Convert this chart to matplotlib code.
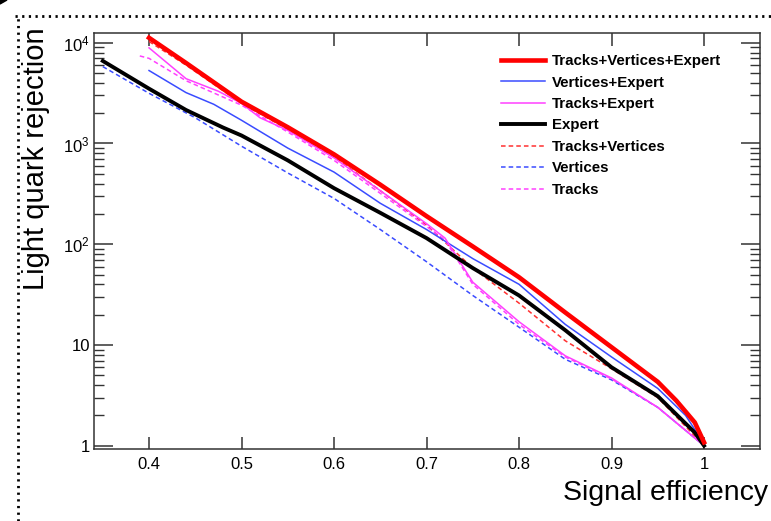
import numpy as np
import matplotlib
matplotlib.use("Agg")
import matplotlib.pyplot as plt
from matplotlib.lines import Line2D
from matplotlib.patches import Polygon
from matplotlib.ticker import FixedLocator, LogLocator, NullFormatter, FuncFormatter

plt.rcParams['font.family'] = ['Liberation Sans', 'DejaVu Sans']
plt.rcParams['mathtext.fontset'] = 'custom'
plt.rcParams['mathtext.rm'] = 'Liberation Sans'

# signal efficiency / light quark rejection
eff_tve = [0.40, 0.44, 0.50, 0.55, 0.60, 0.65, 0.70, 0.75, 0.80, 0.85, 0.90, 0.95, 0.97, 0.99, 1.00]
rej_tve = [11200, 6300, 2600, 1450, 780, 390, 190, 95, 47, 21, 9.5, 4.3, 2.8, 1.7, 1.08]

eff_ve = [0.40, 0.44, 0.47, 0.50, 0.55, 0.60, 0.65, 0.70, 0.75, 0.80, 0.85, 0.90, 0.95, 0.98, 1.00]
rej_ve = [5300, 3200, 2450, 1700, 900, 520, 255, 140, 72, 40, 16, 7.6, 3.7, 2.0, 1.05]

eff_te = [0.40, 0.44, 0.475, 0.50, 0.52, 0.55, 0.60, 0.65, 0.70, 0.72, 0.75, 0.80, 0.85, 0.90, 0.95, 1.00]
rej_te = [8900, 4400, 3300, 2500, 1800, 1350, 720, 340, 160, 115, 42, 17, 7.8, 4.7, 2.4, 1.0]

eff_e = [0.35, 0.40, 0.44, 0.48, 0.50, 0.55, 0.60, 0.65, 0.70, 0.75, 0.80, 0.85, 0.90, 0.95, 0.99, 1.00]
rej_e = [6600, 3500, 2150, 1440, 1200, 680, 360, 205, 115, 58, 31, 14, 6.0, 3.1, 1.35, 1.0]

eff_tv = [0.40, 0.44, 0.50, 0.55, 0.60, 0.65, 0.70, 0.75, 0.80, 0.85, 0.90, 0.95, 1.00]
rej_tv = [10300, 6000, 2500, 1380, 740, 340, 155, 58, 26, 11, 5.8, 3.0, 1.0]

eff_v = [0.35, 0.40, 0.45, 0.50, 0.55, 0.60, 0.65, 0.70, 0.75, 0.80, 0.85, 0.90, 0.95, 1.00]
rej_v = [5800, 3150, 1800, 940, 510, 285, 140, 67, 31, 15, 7.2, 4.5, 2.4, 1.0]

eff_t = [0.39, 0.40, 0.44, 0.50, 0.55, 0.60, 0.65, 0.70, 0.72, 0.75, 0.80, 0.85, 0.90, 0.95, 1.00]
rej_t = [7400, 7000, 4200, 2400, 1300, 680, 320, 150, 110, 40, 16, 7.6, 4.6, 2.4, 1.0]

xticks = [0.4, 0.5, 0.6, 0.7, 0.8, 0.9, 1.0]
xtick_labels = ['0.4', '0.5', '0.6', '0.7', '0.8', '0.9', '1']

fig = plt.figure(figsize=(7.71, 5.21), dpi=100)
ax = fig.add_axes([94/771, 1-449/521, 666/771, 416/521])

dash = (0, (3, 2))
ax.plot(eff_tve, rej_tve, color='#ff0000', lw=3.3, label='Tracks+Vertices+Expert', zorder=5)
ax.plot(eff_ve, rej_ve, color='#3a4cff', lw=1.1, label='Vertices+Expert', zorder=4)
ax.plot(eff_te, rej_te, color='#ff40ff', lw=1.1, label='Tracks+Expert', zorder=4)
ax.plot(eff_e, rej_e, color='black', lw=2.8, label='Expert', zorder=4)
ax.plot(eff_tv, rej_tv, color='#ff3030', lw=1.1, ls=dash, label='Tracks+Vertices', zorder=3)
ax.plot(eff_v, rej_v, color='#3a4cff', lw=1.1, ls=dash, label='Vertices', zorder=3)
ax.plot(eff_t, rej_t, color='#ff40ff', lw=1.1, ls=dash, label='Tracks', zorder=3)

ax.set_yscale('log')
ax.set_xlim(0.3405, 1.0605)
ax.set_ylim(0.927, 12500)

ax.xaxis.set_major_locator(FixedLocator(xticks))
ax.set_xticklabels(xtick_labels)
ax.yaxis.set_major_locator(LogLocator(base=10, numticks=10))
ax.yaxis.set_minor_locator(LogLocator(base=10, subs=np.arange(2, 10), numticks=10))
ax.yaxis.set_minor_formatter(NullFormatter())

def ylab(v, pos):
    if v < 1.5:
        return '1'
    if v < 15:
        return '10'
    return r'$\mathregular{10^{%d}}$' % int(round(np.log10(v)))

ax.yaxis.set_major_formatter(FuncFormatter(ylab))

for s in ax.spines.values():
    s.set_linewidth(1.1)
    s.set_color('#333333')
ax.tick_params(axis='x', which='major', direction='in', length=9, width=1.1, top=True,
               labelsize=12, pad=6, color='#333333')
ax.tick_params(axis='y', which='major', direction='in', length=14, width=1.1, right=True,
               labelsize=12, pad=3, color='#333333')
ax.tick_params(axis='y', which='minor', direction='in', length=7, width=1.0, right=True,
               color='#333333')

ax.legend(loc='upper left', bbox_to_anchor=(501/771, 1-54/521), bbox_transform=fig.transFigure,
          frameon=False, prop={'weight': 'bold', 'size': 10.8}, handlelength=2.9,
          handletextpad=0.5, labelspacing=0.5, borderpad=0, borderaxespad=0)

fig.text(768/771, 1-500/521, 'Signal efficiency', ha='right', va='baseline', fontsize=20.5)
fig.text(36/771, 1-27/521, 'Light quark rejection', ha='center', va='top', rotation=90, fontsize=21)

# dotted frame of the screenshot
fig.add_artist(Line2D([15/771, 1.0], [1-16/521, 1-16/521], transform=fig.transFigure,
                      color='black', lw=2.0, ls=(0, (0.8, 1.6))))
fig.add_artist(Line2D([18/771, 18/771], [0.0, 1-16/521], transform=fig.transFigure,
                      color='black', lw=2.0, ls=(0, (0.8, 1.6))))
fig.add_artist(Polygon([[0, 1-4/521], [7/771, 1.0], [0, 1.0]], closed=True,
                       transform=fig.transFigure, color='black'))

fig.savefig('out.png', dpi=100)
